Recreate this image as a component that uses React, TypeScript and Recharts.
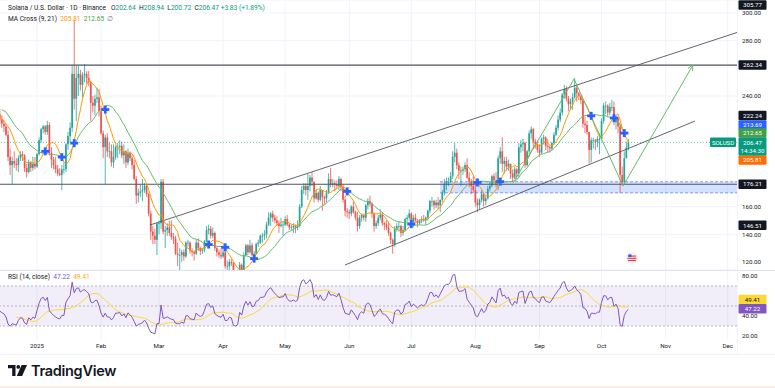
import {
  ComposedChart,
  Bar,
  Line,
  Scatter,
  XAxis,
  YAxis,
  CartesianGrid,
  ReferenceLine,
  ReferenceArea,
  ReferenceDot,
} from 'recharts';

// SOLUSD daily candles (Binance), first candle 25 Nov 2024.
// Day numbers count from 1 Jan 2025; open = previous close.
const firstDay = -37;
const firstOpen = 246;

const closes = [
  236, 229, 241, 236, 238, 242, 236, 224, 225, 235, 238, 240, 235, 228, 213, 211, 225, 227, 229, 223, 220,
  218, 212, 196, 190, 193, 191, 190, 195, 198, 197, 188, 185, 192, 188, 191, 189,
  198, 208, 216, 218, 214, 219, 199, 194, 190, 187, 184, 183, 187, 187, 205, 211, 217, 256, 238, 253, 256, 248, 255, 256, 253, 250, 235, 233, 238, 239, 229,
  213, 203, 210, 200, 200, 192, 196, 203, 203, 204, 197, 200, 192, 199, 195, 190, 180, 168, 170, 171, 172, 175, 169, 155, 142, 139, 136, 148,
  148, 178, 142, 143, 145, 141, 138, 137, 126, 125, 125, 127, 124, 134, 134, 128, 127, 126, 134, 130, 128, 129, 135, 143, 144, 139, 141, 130, 127, 125, 124,
  127, 117, 117, 120, 119, 106, 105, 106, 118, 114, 125, 132, 127, 132, 125, 126, 133, 134, 139, 139, 140, 147, 152, 155, 152, 150, 148, 146, 147, 147,
  151, 147, 145, 145, 146, 145, 146, 160, 172, 175, 172, 175, 181, 178, 166, 170, 165, 172, 167, 166, 170, 180, 176, 177, 176, 175, 180, 174, 165, 157, 156,
  155, 160, 156, 152, 146, 152, 154, 152, 161, 164, 162, 155, 146, 148, 152, 154, 148, 147, 145, 141, 136, 133, 144, 146, 146, 141, 143, 151, 152, 155,
  149, 152, 150, 148, 150, 151, 150, 152, 157, 164, 164, 161, 163, 161, 165, 170, 176, 178, 178, 182, 196, 199, 190, 186, 186, 187, 190, 181, 178, 175, 172,
  163, 161, 165, 169, 164, 166, 173, 175, 182, 179, 176, 195, 200, 191, 193, 189, 191, 184, 181, 187, 184, 203, 205, 206, 190, 200, 213, 216, 207, 205, 201,
  199, 209, 210, 204, 203, 202, 206, 212, 217, 223, 228, 241, 245, 238, 234, 236, 239, 246, 242, 240, 237, 220, 219, 214, 201, 208, 208, 207, 209, 209,
  222, 233, 233, 228, 232, 232, 221, 224, 218, 183, 178, 195, 202.64, 206.47,
];

const highs = [
  248, 238, 243, 245, 242, 245, 243, 237, 230, 238, 244, 243, 241, 236, 230, 218, 228, 232, 233, 231, 226,
  223, 220, 215, 202, 196, 200, 195, 197, 200, 200, 198, 191, 194, 193, 196, 196,
  199, 210, 217, 219, 219, 222, 221, 203, 196, 196, 190, 188, 190, 192, 206, 214, 221, 262, 295, 262, 262, 259, 257, 263, 258, 258, 251, 240, 241, 246, 245,
  233, 215, 212, 213, 206, 205, 205, 204, 206, 208, 207, 205, 201, 202, 200, 197, 194, 182, 173, 176, 180, 177, 176, 170, 157, 146, 144, 148,
  150, 180, 180, 146, 148, 150, 150, 141, 139, 134, 130, 129, 129, 135, 136, 135, 130, 128, 136, 137, 131, 130, 136, 146, 147, 146, 145, 142, 131, 129, 130,
  130, 132, 121, 122, 122, 120, 112, 113, 120, 119, 127, 133, 133, 136, 134, 128, 134, 136, 140, 141, 143, 149, 156, 156, 157, 154, 153, 150, 152, 149,
  153, 154, 148, 147, 148, 147, 150, 162, 175, 177, 177, 184, 183, 185, 178, 172, 171, 175, 172, 168, 172, 184, 188, 180, 179, 179, 182, 181, 176, 168, 159,
  158, 161, 164, 157, 156, 154, 155, 155, 162, 166, 168, 163, 156, 150, 154, 158, 156, 149, 150, 149, 142, 137, 146, 148, 149, 147, 146, 152, 154, 158,
  156, 154, 155, 151, 151, 153, 154, 153, 158, 165, 167, 165, 165, 167, 165, 172, 180, 181, 181, 185, 200, 206, 202, 192, 189, 189, 192, 195, 185, 180, 182,
  177, 166, 166, 172, 170, 168, 175, 178, 183, 184, 185, 197, 203, 210, 196, 196, 194, 191, 187, 189, 188, 206, 208, 209, 207, 201, 215, 218, 217, 209, 208,
  205, 210, 212, 211, 209, 204, 207, 214, 219, 226, 231, 242, 248, 247, 240, 238, 242, 253, 248, 243, 241, 237, 225, 222, 214, 210, 210, 209, 211, 213,
  224, 235, 236, 234, 235, 237, 236, 226, 225, 220, 189, 200, 207, 208.94,
];

const lows = [
  229, 221, 227, 232, 232, 236, 232, 220, 215, 222, 230, 232, 232, 226, 206, 200, 209, 221, 224, 220, 217,
  214, 211, 193, 183, 176, 188, 186, 185, 193, 193, 185, 181, 184, 185, 186, 187,
  188, 197, 206, 213, 212, 212, 197, 188, 187, 184, 182, 182, 172, 184, 185, 201, 206, 214, 230, 222, 240, 244, 239, 250, 249, 247, 222, 228, 226, 235, 225,
  212, 195, 176, 196, 195, 189, 188, 194, 195, 198, 195, 191, 188, 190, 193, 187, 179, 162, 163, 167, 164, 170, 167, 153, 136, 133, 133, 125,
  140, 144, 140, 130, 139, 139, 136, 133, 125, 117, 112, 120, 121, 123, 131, 126, 124, 121, 125, 128, 125, 126, 127, 134, 140, 137, 137, 128, 124, 123, 122,
  123, 115, 112, 112, 117, 104, 95, 104, 101, 110, 113, 124, 125, 126, 124, 121, 125, 131, 133, 134, 136, 137, 146, 146, 149, 148, 146, 141, 145, 139,
  146, 146, 143, 143, 141, 141, 143, 145, 159, 169, 168, 165, 171, 175, 163, 165, 163, 164, 157, 161, 163, 169, 174, 174, 171, 173, 172, 171, 163, 153, 152,
  151, 153, 155, 150, 142, 144, 149, 150, 149, 158, 160, 152, 142, 144, 146, 150, 146, 143, 143, 139, 133, 126, 131, 142, 142, 138, 139, 142, 149, 150,
  147, 145, 149, 145, 147, 148, 149, 147, 150, 155, 160, 158, 159, 158, 156, 163, 168, 172, 175, 177, 180, 192, 187, 180, 175, 183, 185, 180, 174, 169, 170,
  160, 156, 158, 163, 160, 161, 165, 171, 174, 176, 174, 172, 191, 185, 184, 186, 186, 180, 178, 180, 180, 181, 199, 200, 188, 189, 196, 209, 202, 202, 199,
  196, 198, 205, 201, 199, 199, 201, 205, 211, 215, 221, 226, 238, 236, 229, 230, 230, 238, 236, 237, 234, 217, 213, 212, 191, 192, 202, 201, 203, 198,
  208, 220, 227, 225, 226, 229, 219, 216, 213, 170, 176, 177, 195, 200.72,
];

// month starts (day numbers) and their labels on the time scale
const monthTicks = [0, 31, 59, 90, 120, 151, 181, 212, 243, 273, 304, 334];
const monthLabels = ['2025', 'Feb', 'Mar', 'Apr', 'May', 'Jun', 'Jul', 'Aug', 'Sep', 'Oct', 'Nov', 'Dec'];

const priceTicks = [120, 140, 160, 240, 280, 300];
const rsiTicks = [20, 40, 80];

// drawings
const hLevels = [262.34, 176.21];
const upperChannel = [
  { x: 54.6, y: 146.7 },
  { x: 338.5, y: 285.9 },
];
const lowerChannel = [
  { x: 148.9, y: 117.8 },
  { x: 318.2, y: 221.9 },
];
const zoneDays = [194.9, 338.5];
const zonePrices = [170, 178];
const pathDays = [230.2, 259.7, 283.4, 317.2];
const pathPrices = [177, 252.3, 174.9, 262.4];

const lastClose = 206.47;

const UP = '#26a69a';
const DOWN = '#ef5350';
const FONT = 'Roboto, "Liberation Sans", Arial, sans-serif';
const xDomain: [number, number] = [-17.9, 338.5];
const priceDomain: [number, number] = [114.2, 309.4];
const rsiDomain: [number, number] = [17, 86];
const PRICE_H = 270;
const pxPerUnit = PRICE_H / (priceDomain[1] - priceDomain[0]);

function sma(arr: (number | null)[], n: number) {
  return arr.map((_, i) => {
    if (i < n - 1) return null;
    let s = 0;
    for (let k = i - n + 1; k <= i; k++) {
      const v = arr[k];
      if (v == null) return null;
      s += v;
    }
    return s / n;
  });
}

function rsiOf(arr: number[], n: number) {
  const out: (number | null)[] = arr.map(() => null);
  let ag = 0;
  let al = 0;
  for (let i = 1; i < arr.length; i++) {
    const ch = arr[i] - arr[i - 1];
    const g = Math.max(ch, 0);
    const l = Math.max(-ch, 0);
    if (i <= n) {
      ag += g / n;
      al += l / n;
      if (i < n) continue;
    } else {
      ag = (ag * (n - 1) + g) / n;
      al = (al * (n - 1) + l) / n;
    }
    out[i] = al === 0 ? 100 : 100 - 100 / (1 + ag / al);
  }
  return out;
}

const count = Math.min(closes.length, highs.length, lows.length);
const ma9 = sma(closes, 9);
const ma21 = sma(closes, 21);
const rsi = rsiOf(closes, 14);
const rsiMa = sma(rsi, 14);

const rows = closes.slice(0, count).map((c, i) => {
  const open = i === 0 ? firstOpen : closes[i - 1];
  return {
    d: firstDay + i,
    open,
    close: c,
    high: Math.max(highs[i], open, c),
    low: Math.min(lows[i], open, c),
    ma9: ma9[i],
    ma21: ma21[i],
    rsi: rsi[i],
    rsiMa: rsiMa[i],
  };
});

// MA Cross markers where the 9 and 21 day averages swap places
const crosses = rows
  .filter((r, i) => {
    const p = rows[i - 1];
    if (!p || p.ma9 == null || p.ma21 == null || r.ma9 == null || r.ma21 == null) return false;
    if (r.d < xDomain[0]) return false;
    return Math.sign(r.ma9 - r.ma21) !== Math.sign(p.ma9 - p.ma21);
  })
  .map((r) => ({ d: r.d, p: ((r.ma9 as number) + (r.ma21 as number)) / 2 }));

const pathPoints = pathDays.map((d, i) => ({ d, p: pathPrices[i] }));

function Candle(props: any) {
  const { x, y, width, payload } = props;
  if (!payload || x == null || y == null) return <g />;
  const { open, close, high, low } = payload;
  const cx = x + width / 2;
  const py = (v: number) => y + (high - v) * pxPerUnit;
  const color = close >= open ? UP : DOWN;
  const top = py(Math.max(open, close));
  const bot = py(Math.min(open, close));
  return (
    <g>
      <line x1={cx} x2={cx} y1={y} y2={py(low)} stroke={color} strokeWidth={0.8} />
      <rect x={cx - 0.85} y={top} width={1.7} height={Math.max(bot - top, 0.7)} fill={color} />
    </g>
  );
}

function Plus(props: any) {
  const { cx, cy } = props;
  if (cx == null) return <g />;
  return (
    <g fill="#2962ff">
      <rect x={cx - 4} y={cy - 1.4} width={8} height={2.8} />
      <rect x={cx - 1.4} y={cy - 4} width={2.8} height={8} />
    </g>
  );
}

const seenPath: { x: number; y: number }[] = [];
function PathDot(props: any) {
  const { cx, cy, index } = props;
  seenPath[index] = { x: cx, y: cy };
  const prev = seenPath[index - 1];
  if (index !== pathPoints.length - 1 || !prev) return <g key={index} />;
  const a = Math.atan2(cy - prev.y, cx - prev.x);
  const L = 6;
  const s = 0.45;
  const p1 = `${cx - L * Math.cos(a - s)},${cy - L * Math.sin(a - s)}`;
  const p2 = `${cx - L * Math.cos(a + s)},${cy - L * Math.sin(a + s)}`;
  return <path key={index} d={`M${p1}L${cx},${cy}L${p2}`} stroke="#66bb6a" strokeWidth={1} fill="none" />;
}

function FlagIcon(props: any) {
  const { cx, cy } = props;
  if (cx == null) return <g />;
  return (
    <g>
      <circle cx={cx} cy={cy} r={5} fill="#fff" stroke="#e0e3eb" strokeWidth={0.8} />
      <rect x={cx - 4} y={cy - 2.5} width={8} height={1.2} fill="#f23645" />
      <rect x={cx - 4.5} y={cy - 0.3} width={9} height={1.2} fill="#f23645" />
      <rect x={cx - 4} y={cy + 1.9} width={8} height={1.2} fill="#f23645" />
      <rect x={cx - 3.6} y={cy - 3.6} width={3.2} height={2.6} fill="#2962ff" />
    </g>
  );
}

type Badge = { value: number; text: string; bg: string; fg: string; shift: number; sub?: string; tag?: string };

const priceBadges: Badge[] = [
  { value: 305.77, text: '305.77', bg: '#131722', fg: '#fff', shift: 0 },
  { value: 262.34, text: '262.34', bg: '#131722', fg: '#fff', shift: 0 },
  { value: 222.24, text: '222.24', bg: '#131722', fg: '#fff', shift: -5 },
  { value: 213.69, text: '213.69', bg: '#2962ff', fg: '#fff', shift: -7.5 },
  { value: 212.65, text: '212.65', bg: '#43a047', fg: '#fff', shift: -0.8 },
  { value: 205.81, text: '205.81', bg: '#ff6d00', fg: '#fff', shift: 16.7 },
  { value: 206.47, text: '206.47', bg: '#089981', fg: '#fff', shift: 0, sub: '14:34:30', tag: 'SOLUSD' },
  { value: 176.21, text: '176.21', bg: '#131722', fg: '#fff', shift: 0 },
  { value: 146.51, text: '146.51', bg: '#131722', fg: '#fff', shift: 0 },
];

const rsiBadges: Badge[] = [
  { value: 49.41, text: '49.41', bg: '#fdd835', fg: '#131722', shift: -7 },
  { value: 47.22, text: '47.22', bg: '#7e57c2', fg: '#fff', shift: 0 },
];

function badgeLabel(b: Badge) {
  return (props: any) => {
    const vb = props.viewBox;
    if (!vb) return null;
    const right = vb.x + vb.width;
    const y = vb.y + b.shift;
    const h = b.sub ? 18 : 9.5;
    return (
      <g style={{ fontFamily: FONT }}>
        {b.tag && (
          <g>
            <rect x={right - 27} y={y - 4.75} width={26} height={9.5} rx={1} fill={b.bg} />
            <text x={right - 14} y={y + 2.2} textAnchor="middle" fontSize={6} fill={b.fg}>
              {b.tag}
            </text>
          </g>
        )}
        <rect x={right + 1.5} y={y - 4.75} width={28} height={h} rx={1} fill={b.bg} />
        <text x={right + 15.5} y={y + 2.2} textAnchor="middle" fontSize={6.2} fill={b.fg}>
          {b.text}
        </text>
        {b.sub && (
          <text x={right + 15.5} y={y + 10.8} textAnchor="middle" fontSize={6.2} fill={b.fg}>
            {b.sub}
          </text>
        )}
      </g>
    );
  };
}

const axisTick = { fontSize: 6.2, fill: '#131722', fontFamily: FONT };

function PriceChart() {
  return (
    <ComposedChart width={775} height={PRICE_H} data={rows} margin={{ top: 0, right: 0, bottom: 0, left: 0 }}>
      <CartesianGrid stroke="#f0f3fa" verticalValues={monthTicks} />
      <XAxis dataKey="d" type="number" domain={xDomain} allowDataOverflow hide ticks={monthTicks} />
      <YAxis
        orientation="right"
        width={38}
        domain={priceDomain}
        allowDataOverflow
        ticks={priceTicks}
        tickFormatter={(v: number) => v.toFixed(2)}
        axisLine={false}
        tickLine={false}
        tickSize={0}
        tickMargin={5}
        tick={axisTick}
      />
      <ReferenceArea
        x1={zoneDays[0]}
        x2={zoneDays[1]}
        y1={zonePrices[0]}
        y2={zonePrices[1]}
        fill="#2962ff"
        fillOpacity={0.2}
        stroke="none"
        ifOverflow="hidden"
      />
      {zonePrices.map((p) => (
        <ReferenceLine
          key={p}
          segment={[
            { x: zoneDays[0], y: p },
            { x: zoneDays[1], y: p },
          ]}
          stroke="#2962ff"
          strokeOpacity={0.6}
          strokeDasharray="3 2"
          ifOverflow="hidden"
        />
      ))}
      {hLevels.map((p) => (
        <ReferenceLine key={p} y={p} stroke="#50535e" strokeWidth={1.1} />
      ))}
      <ReferenceLine y={lastClose} stroke="#089981" strokeOpacity={0.6} strokeDasharray="1 2" />
      <ReferenceLine segment={upperChannel} stroke="#50535e" strokeWidth={0.9} ifOverflow="hidden" />
      <ReferenceLine segment={lowerChannel} stroke="#50535e" strokeWidth={0.9} ifOverflow="hidden" />
      <Bar
        dataKey={(r: any) => [r.low, r.high]}
        barSize={2}
        shape={(p: any) => <Candle {...p} />}
        isAnimationActive={false}
      />
      <Line dataKey="ma21" stroke="#66bb6a" strokeWidth={1} dot={false} isAnimationActive={false} />
      <Line dataKey="ma9" stroke="#ff9800" strokeWidth={1} dot={false} isAnimationActive={false} />
      <Line
        data={pathPoints}
        dataKey="p"
        stroke="#66bb6a"
        strokeWidth={1}
        dot={(p: any) => <PathDot key={p.index} {...p} />}
        isAnimationActive={false}
      />
      <Scatter data={crosses} dataKey="p" shape={(p: any) => <Plus {...p} />} isAnimationActive={false} />
      <ReferenceDot x={287.7} y={122.9} r={5} shape={(p: any) => <FlagIcon {...p} />} />
      {priceBadges.map((b) => (
        <ReferenceLine key={b.text} y={b.value} stroke="none" label={badgeLabel(b)} />
      ))}
    </ComposedChart>
  );
}

function RsiChart() {
  return (
    <ComposedChart width={775} height={85} data={rows} margin={{ top: 0, right: 0, bottom: 0, left: 0 }}>
      <CartesianGrid stroke="#f0f3fa" horizontal={false} verticalValues={monthTicks} />
      <XAxis
        dataKey="d"
        type="number"
        domain={xDomain}
        allowDataOverflow
        ticks={monthTicks}
        tickFormatter={(v: number) => monthLabels[monthTicks.indexOf(v)] ?? ''}
        height={16}
        axisLine={false}
        tickLine={false}
        tickSize={0}
        tickMargin={5}
        tick={axisTick}
      />
      <YAxis
        orientation="right"
        width={38}
        domain={rsiDomain}
        allowDataOverflow
        ticks={rsiTicks}
        tickFormatter={(v: number) => v.toFixed(2)}
        axisLine={false}
        tickLine={false}
        tickSize={0}
        tickMargin={5}
        tick={axisTick}
      />
      <ReferenceArea y1={30} y2={70} fill="#7e57c2" fillOpacity={0.1} stroke="none" />
      {[70, 50, 30].map((v) => (
        <ReferenceLine key={v} y={v} stroke="#787b86" strokeOpacity={0.5} strokeDasharray="2 2" />
      ))}
      <Line dataKey="rsiMa" stroke="#fdd835" strokeWidth={1} dot={false} isAnimationActive={false} />
      <Line dataKey="rsi" stroke="#7e57c2" strokeWidth={1} dot={false} isAnimationActive={false} />
      {rsiBadges.map((b) => (
        <ReferenceLine key={b.text} y={b.value} stroke="none" label={badgeLabel(b)} />
      ))}
    </ComposedChart>
  );
}

const G = '#089981';

export default function App() {
  return (
    <div
      style={{
        position: 'fixed',
        left: 0,
        top: 0,
        width: 775,
        height: 388,
        background: '#fff',
        overflow: 'hidden',
        fontFamily: FONT,
        color: '#131722',
      }}
    >
      <div style={{ position: 'absolute', left: 0, top: 0 }}>
        <PriceChart />
      </div>
      <div style={{ position: 'absolute', left: 0, top: 270 }}>
        <RsiChart />
      </div>
      <div style={{ position: 'absolute', left: 0, top: 270, width: 775, height: 1, background: '#e0e3eb' }} />
      <div style={{ position: 'absolute', left: 737, top: 0, width: 1, height: 354, background: '#f0f3fa' }} />

      <div style={{ position: 'absolute', left: 8, top: 3, fontSize: 6.6, lineHeight: '11px', whiteSpace: 'nowrap' }}>
        <div>
          Solana / U.S. Dollar · 1D · Binance&nbsp;&nbsp;
          O<span style={{ color: G }}>202.64</span>&nbsp;
          H<span style={{ color: G }}>208.94</span>&nbsp;
          L<span style={{ color: G }}>200.72</span>&nbsp;
          C<span style={{ color: G }}>206.47</span>&nbsp;
          <span style={{ color: G }}>+3.83 (+1.89%)</span>
        </div>
        <div>
          MA Cross (9, 21)&nbsp;&nbsp;<span style={{ color: '#ff9800' }}>205.81</span>&nbsp;&nbsp;
          <span style={{ color: '#43a047' }}>212.65</span>&nbsp;&nbsp;<span style={{ color: '#787b86' }}>∅</span>
        </div>
      </div>

      <div style={{ position: 'absolute', left: 8, top: 272, fontSize: 6.6, lineHeight: '11px', whiteSpace: 'nowrap' }}>
        RSI (14, close)&nbsp;&nbsp;<span style={{ color: '#7e57c2' }}>47.22</span>&nbsp;&nbsp;
        <span style={{ color: '#f9a825' }}>49.41</span>
      </div>

      <div style={{ position: 'absolute', left: 0, top: 354, width: 775, height: 1, background: '#f0f3fa' }} />

      <div style={{ position: 'absolute', left: 8, top: 362, display: 'flex', alignItems: 'center', gap: 4 }}>
        <svg width={19} height={11} viewBox="0 0 19 11">
          <path d="M0 0h7.5v11H4.2V3.3H0z" fill="#131722" />
          <circle cx={10.3} cy={1.9} r={1.9} fill="#131722" />
          <path d="M13.6 0H19l-4.9 11H8.8z" fill="#131722" />
        </svg>
        <span style={{ fontFamily: 'Inter, Roboto, sans-serif', fontWeight: 600, fontSize: 14.5, letterSpacing: -0.3 }}>
          TradingView
        </span>
      </div>
      <div style={{ position: 'absolute', left: 0, top: 386, width: 775, height: 2, background: '#fdeee3' }} />
    </div>
  );
}
